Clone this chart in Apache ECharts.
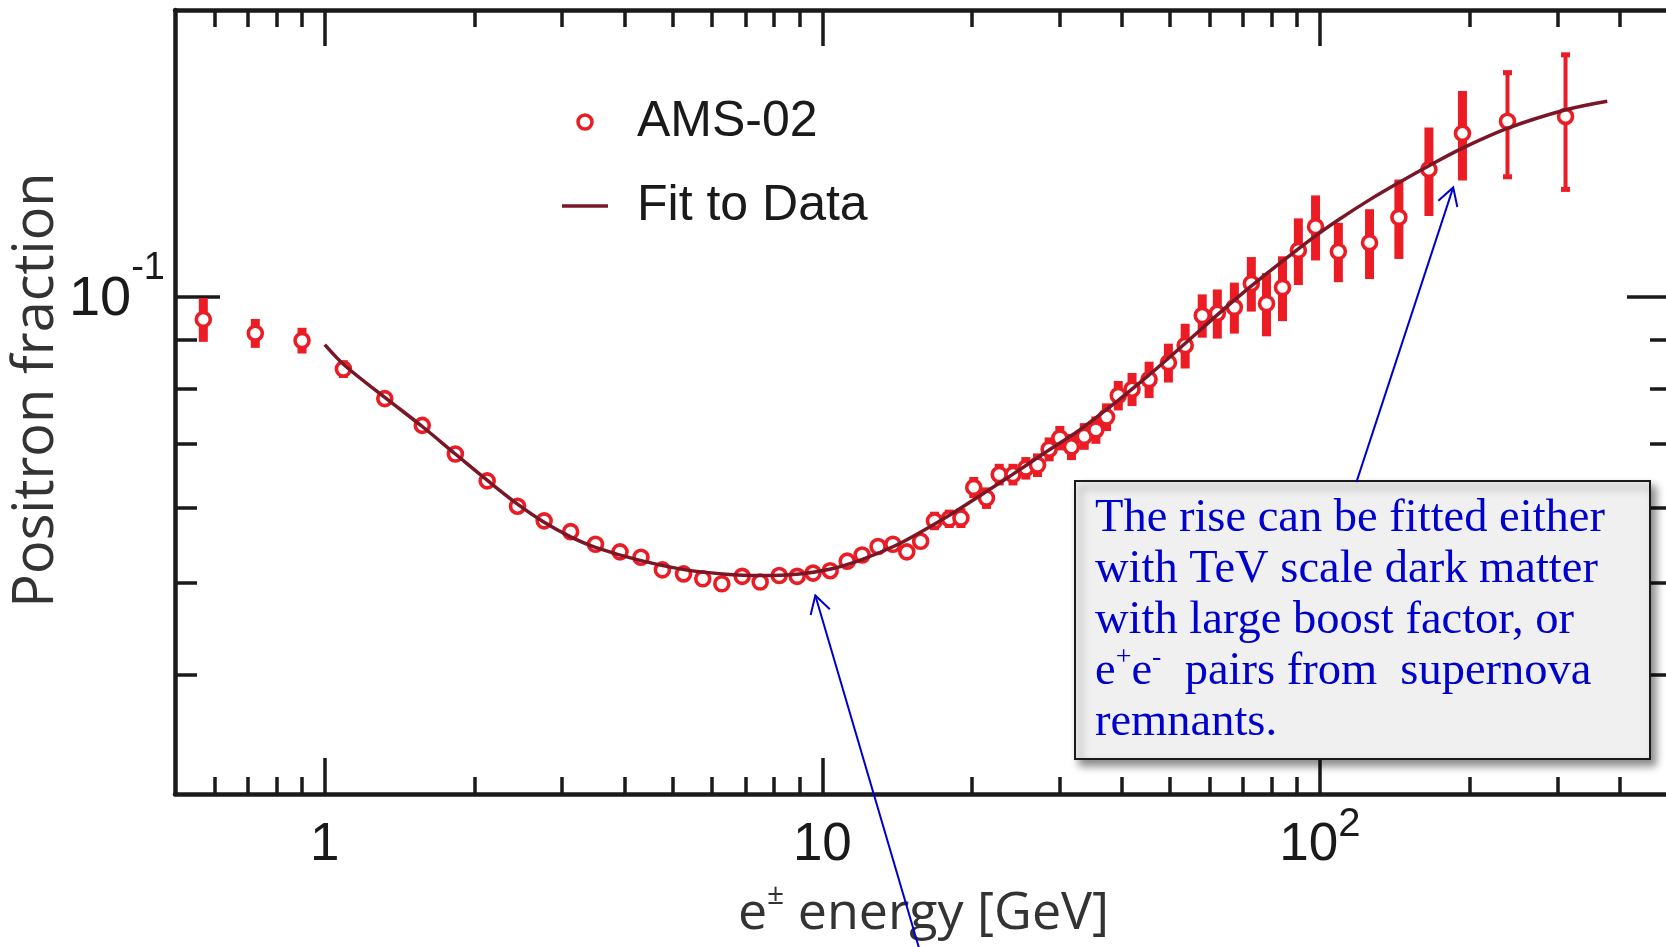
<!DOCTYPE html>
<html>
<head>
<meta charset="utf-8">
<script src="https://cdn.jsdelivr.net/npm/echarts@6/dist/echarts.min.js"></script>
<style>
html,body{margin:0;padding:0;background:#ffffff;}
#chart{width:1666px;height:947px;}
</style>
</head>
<body>
<div id="chart"></div>
<script>
// ---------------- data ----------------
const energy = [0.570, 0.725, 0.900, 1.09, 1.32, 1.57, 1.83, 2.12, 2.44, 2.76,
  3.12, 3.50, 3.92, 4.32, 4.77, 5.26, 5.75, 6.28, 6.90, 7.50,
  8.19, 8.90, 9.58, 10.37, 11.22, 12.02, 12.94, 13.86, 14.78, 15.76,
  16.80, 17.99, 18.99, 20.15, 21.37, 22.67, 24.16, 25.64, 27.06, 28.56,
  30.01, 31.67, 33.60, 35.46, 37.25, 39.33, 41.92, 45.36, 49.6, 53.6,
  58.0, 62.2, 67.3, 72.8, 78.1, 84.1, 90.5, 98.0, 108.9, 125.8,
  144.1, 165.6, 193.4, 238.2, 311.6];
const fraction = [0.0946, 0.0915, 0.0899, 0.0839, 0.0781, 0.0732, 0.0683, 0.0640, 0.0602, 0.0581,
  0.0566, 0.0549, 0.0539, 0.0532, 0.0516, 0.0511, 0.0505, 0.0499, 0.0508, 0.0501,
  0.0509, 0.0508, 0.0512, 0.0515, 0.0527, 0.0535, 0.0546, 0.0549, 0.0539, 0.0553,
  0.0581, 0.0584, 0.0585, 0.0630, 0.0614, 0.0650, 0.0650, 0.0660, 0.0665, 0.0691,
  0.0710, 0.0695, 0.0713, 0.0724, 0.0747, 0.0787, 0.0799, 0.0818, 0.0852, 0.0888,
  0.0955, 0.0960, 0.0974, 0.1032, 0.0983, 0.1022, 0.1118, 0.1184, 0.1115, 0.1139,
  0.1211, 0.1360, 0.1484, 0.1528, 0.1546];
const fractionErr = [0.0050, 0.0032, 0.0028, 0.0018, 0.0010, 0.0008, 0.0007, 0.0006, 0.0006, 0.0005,
  0.0005, 0.0005, 0.0005, 0.0005, 0.0005, 0.0005, 0.0005, 0.0005, 0.0005, 0.0005,
  0.0006, 0.0006, 0.0006, 0.0006, 0.0007, 0.0007, 0.0008, 0.0008, 0.0009, 0.0010,
  0.0013, 0.0013, 0.0014, 0.0016, 0.0016, 0.0017, 0.0017, 0.0018, 0.0019, 0.0020,
  0.0021, 0.0022, 0.0023, 0.0024, 0.0025, 0.0028, 0.0032, 0.0036, 0.0040, 0.0048,
  0.0050, 0.0057, 0.0060, 0.0068, 0.0075, 0.0080, 0.0090, 0.0093, 0.0080, 0.0096,
  0.0116, 0.0145, 0.0160, 0.0197, 0.0255];
const fitEnergy = [1.0, 1.1, 1.33, 1.57, 1.83, 2.12, 2.44, 2.76, 3.12, 3.5,
  4.3, 5.3, 6.3, 7.5, 9.0, 10.4, 12, 14, 16, 18,
  20, 24, 28, 33, 39, 45, 49.6, 58, 67.3, 78,
  90.5, 98, 109, 126, 144, 166, 193, 238, 312, 378];
const fitFraction = [0.0890, 0.0845, 0.0781, 0.0730, 0.0683, 0.0641, 0.0605, 0.0579, 0.0559, 0.0545,
  0.0528, 0.0516, 0.0511, 0.0509, 0.0511, 0.0517, 0.0529, 0.0547, 0.0568, 0.0589,
  0.0610, 0.0649, 0.0685, 0.0725, 0.0775, 0.0824, 0.0861, 0.0926, 0.0991, 0.1056,
  0.1122, 0.1158, 0.1204, 0.1264, 0.1317, 0.1373, 0.1431, 0.1502, 0.1571, 0.1604];
const seriesNames = ['AMS-02', 'Fit to Data'];
const xTickValues = [1, 10, 100];
const xTickLabels = ['1', '10', '10^2'];
const xMinorTickValues = [0.6, 0.7, 0.8, 0.9, 2, 3, 4, 5, 6, 7, 8, 9,
  20, 30, 40, 50, 60, 70, 80, 90, 200, 300, 400, 500];
const yTickValues = [0.1];
const yTickLabels = ['10^-1'];
const yMinorTickValues = [0.04, 0.05, 0.06, 0.07, 0.08, 0.09];
const xRange = [0.5, 510];
const yRange = [0.03, 0.2];
const yTitle = 'Positron fraction';
const xTitleParts = ['e', '\u00b1', ' energy [GeV]'];
const noteLines = ['The rise can be fitted either', 'with TeV scale dark matter',
  'with large boost factor, or', 'e^+e^-  pairs from  supernova', 'remnants.'];
// arrow anchors in data coordinates [energy, fraction]
const arrowTips = [[185.3, 0.1302], [9.68, 0.0485]];
const arrowTails = [[118.4, 0.0638], [15.8, 0.0203]];

// ---------------- styles ----------------
const RED = '#ec1c24';
const FIT = '#7a1727';
const INK = '#1a1a1a';
const BLUE = '#0000cc';
const SANS = "'Liberation Sans', Arial, sans-serif";
const TITLE = "'Open Sans', 'Noto Sans', sans-serif";
const SERIF = "'Liberation Serif', 'DejaVu Serif', serif";

function tickFormatter(values, labels) {
  return function (v) {
    const i = values.findIndex(t => Math.abs(Math.log10(t) - Math.log10(v)) < 1e-6);
    if (i < 0) return '';
    const p = labels[i].split('^');
    return p.length > 1 ? '{b|' + p[0] + '}{s|' + p[1] + '}' : '{b|' + p[0] + '}';
  };
}

const chart = echarts.init(document.getElementById('chart'), null, {renderer: 'canvas'});

const gridLeft = 175, gridTop = 10, gridWidth = 1497, gridHeight = 784;

function xAxisDef(position, major, showLine, showLabel) {
  return {
    type: 'log', logBase: 10, min: xRange[0], max: xRange[1], position: position,
    axisLine: {show: showLine, onZero: false, lineStyle: {color: INK, width: 4.5}},
    axisTick: {show: true, inside: true, length: major ? 36 : 17,
      customValues: major ? xTickValues : xMinorTickValues,
      lineStyle: {color: INK, width: 3.5}},
    axisLabel: showLabel ? {
      show: true, margin: 11, customValues: xTickValues,
      formatter: tickFormatter(xTickValues, xTickLabels),
      rich: {
        b: {fontFamily: SANS, fontSize: 53, lineHeight: 66.5, verticalAlign: 'bottom', color: INK},
        s: {fontFamily: SANS, fontSize: 40, lineHeight: 40, verticalAlign: 'top', color: INK}
      }
    } : {show: false},
    splitLine: {show: false}, minorTick: {show: false}, minorSplitLine: {show: false}
  };
}
function yAxisDef(position, major, showLine, showLabel) {
  return {
    type: 'log', logBase: 10, min: yRange[0], max: yRange[1], position: position,
    axisLine: {show: showLine, onZero: false, lineStyle: {color: INK, width: 4.5}},
    axisTick: {show: true, inside: true, length: major ? 45 : 22,
      customValues: major ? yTickValues : yMinorTickValues,
      lineStyle: {color: INK, width: 3.5}},
    axisLabel: showLabel ? {
      show: true, margin: 10, customValues: yTickValues, padding: [0, 0, 15.5, 0],
      formatter: tickFormatter(yTickValues, yTickLabels),
      rich: {
        b: {fontFamily: SANS, fontSize: 56, lineHeight: 77.5, verticalAlign: 'bottom', color: INK},
        s: {fontFamily: SANS, fontSize: 38, lineHeight: 38, verticalAlign: 'top', color: INK}
      }
    } : {show: false},
    splitLine: {show: false}, minorTick: {show: false}, minorSplitLine: {show: false}
  };
}

const xMain = xAxisDef('bottom', true, true, true);
xMain.name = '{e|' + xTitleParts[0] + '}{p|' + xTitleParts[1] + '}{t|' + xTitleParts[2] + '}';
xMain.nameLocation = 'middle';
xMain.nameGap = 86;
xMain.nameMoveOverlap = false;
xMain.nameTextStyle = {
  rich: {
    e: {fontFamily: TITLE, fontSize: 52, lineHeight: 60, verticalAlign: 'bottom', color: '#333333'},
    p: {fontFamily: TITLE, fontSize: 30, lineHeight: 36, verticalAlign: 'top', color: '#333333'},
    t: {fontFamily: TITLE, fontSize: 52, lineHeight: 60, verticalAlign: 'bottom', color: '#333333'}
  }
};
const yMain = yAxisDef('left', true, true, true);
yMain.name = yTitle;
yMain.nameLocation = 'middle';
yMain.nameGap = 106;
yMain.nameMoveOverlap = false;
yMain.nameTextStyle = {fontFamily: TITLE, fontSize: 56, lineHeight: 64, color: '#333333', padding: [0, 0, 0, 24]};

const errData = energy.map((e, i) => [e, fraction[i] - fractionErr[i], fraction[i] + fractionErr[i]]);

chart.setOption({
  animation: false,
  backgroundColor: '#ffffff',
  grid: {left: gridLeft, top: gridTop, width: gridWidth, height: gridHeight,
    containLabel: false, outerBoundsMode: 'none'},
  legend: {
    data: [
      {name: seriesNames[0], icon: 'circle',
       itemStyle: {color: '#ffffff', borderColor: RED, borderWidth: 3.5, opacity: 1}},
      {name: seriesNames[1], icon: 'path://M0,0L46,0L46,3.5L0,3.5Z', itemStyle: {color: FIT}}
    ],
    orient: 'vertical', left: 562, top: 94, padding: 0,
    itemWidth: 46, itemHeight: 14, itemGap: 28, selectedMode: false,
    textStyle: {fontFamily: SANS, fontSize: 50, lineHeight: 56, color: INK, padding: [0, 0, 0, 24]}
  },
  xAxis: [xMain, xAxisDef('bottom', false, false, false),
          xAxisDef('top', true, true, false), xAxisDef('top', false, false, false)],
  yAxis: [yMain, yAxisDef('left', false, false, false),
          yAxisDef('right', true, true, false), yAxisDef('right', false, false, false)],
  series: [
    {
      type: 'custom', name: 'errors', xAxisIndex: 0, yAxisIndex: 0, z: 1,
      data: errData, encode: {x: 0, y: [1, 2]},
      renderItem: function (params, api) {
        const x = api.value(0);
        const top = api.coord([x, api.value(2)]);
        const bot = api.coord([x, api.value(1)]);
        const capped = x > 200;
        const w = capped ? 4 : 9;
        const children = [{type: 'rect', shape: {x: top[0] - w / 2, y: top[1], width: w, height: bot[1] - top[1]},
          style: {fill: RED}}];
        if (capped) {
          children.push({type: 'rect', shape: {x: top[0] - 4.5, y: top[1] - 1, width: 9, height: 5}, style: {fill: RED}});
          children.push({type: 'rect', shape: {x: bot[0] - 4.5, y: bot[1] - 4, width: 9, height: 5}, style: {fill: RED}});
        }
        return {type: 'group', children: children};
      }
    },
    {
      type: 'scatter', name: seriesNames[0], xAxisIndex: 0, yAxisIndex: 0, z: 2,
      data: energy.map((e, i) => [e, fraction[i]]),
      symbol: 'circle', symbolSize: 14,
      itemStyle: {color: '#ffffff', borderColor: RED, borderWidth: 3.6, opacity: 1}
    },
    {
      type: 'line', name: seriesNames[1], xAxisIndex: 0, yAxisIndex: 0, z: 3,
      data: fitEnergy.map((e, i) => [e, fitFraction[i]]),
      smooth: 0.35, symbol: 'none', showSymbol: false,
      lineStyle: {color: FIT, width: 3.5}, itemStyle: {color: FIT}
    }
  ]
});

// ---------------- annotation (box + arrows) ----------------
function noteRich(line) {
  const p = line.split(/(\^[+-])/);
  return p.filter(s => s.length).map(s => s[0] === '^' ? '{u|' + s.slice(1) + '}' : '{t|' + s + '}').join('');
}
const noteText = noteLines.map(noteRich).join('\n');

const graphics = [
  {type: 'rect', z: 100, shape: {x: 1075, y: 481, width: 575, height: 278},
   style: {fill: '#f0f0f0', stroke: INK, lineWidth: 2, shadowBlur: 8, shadowOffsetX: 5, shadowOffsetY: 6,
     shadowColor: 'rgba(0,0,0,0.45)'}},
  {type: 'text', z: 101, x: 1095, y: 491,
   style: {text: noteText, align: 'left', verticalAlign: 'top', fill: BLUE,
     fontFamily: SERIF, fontSize: 46.5, lineHeight: 51,
     rich: {
       t: {fontFamily: SERIF, fontSize: 46.5, lineHeight: 51, fill: BLUE, color: BLUE, verticalAlign: 'bottom'},
       u: {fontFamily: SERIF, fontSize: 28, lineHeight: 44, fill: BLUE, color: BLUE, verticalAlign: 'top'}
     }}}
];
arrowTips.forEach((tipV, k) => {
  const tip = chart.convertToPixel({xAxisIndex: 0, yAxisIndex: 0}, tipV);
  const tail = chart.convertToPixel({xAxisIndex: 0, yAxisIndex: 0}, arrowTails[k]);
  const dx = tail[0] - tip[0], dy = tail[1] - tip[1];
  const len = Math.sqrt(dx * dx + dy * dy);
  const ux = dx / len, uy = dy / len;
  const L = 20, a = 30 * Math.PI / 180;
  const w1 = [tip[0] + L * (ux * Math.cos(a) - uy * Math.sin(a)), tip[1] + L * (ux * Math.sin(a) + uy * Math.cos(a))];
  const w2 = [tip[0] + L * (ux * Math.cos(-a) - uy * Math.sin(-a)), tip[1] + L * (ux * Math.sin(-a) + uy * Math.cos(-a))];
  graphics.push({type: 'polyline', z: 102, shape: {points: [tail, tip]}, style: {stroke: BLUE, lineWidth: 2, fill: null}});
  graphics.push({type: 'polyline', z: 102, shape: {points: [w1, tip, w2]}, style: {stroke: BLUE, lineWidth: 2, fill: null}});
});
chart.setOption({graphic: graphics});
</script>
</body>
</html>
